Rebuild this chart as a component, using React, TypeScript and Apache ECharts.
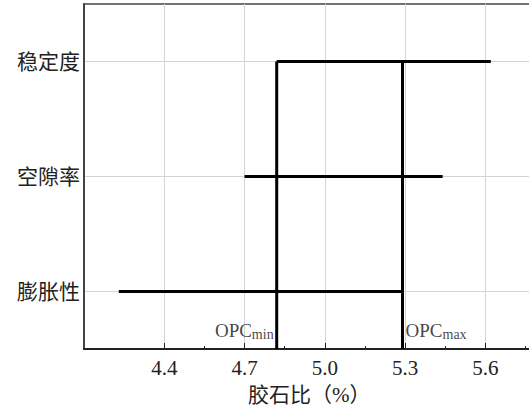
import React, { useEffect, useRef } from "react";
import * as echarts from "echarts";

// bottom to top
const categories = ["膨胀性", "空隙率", "稳定度"];
const lows = [4.23, 4.7, 4.82];
const highs = [5.29, 5.44, 5.62];
const opcValues = [4.82, 5.29];
const opcSubs = ["min", "max"];
const majorTicks = [4.4, 4.7, 5.0, 5.3, 5.6];
const minorTicks = [4.55, 4.85, 5.15, 5.45, 5.75];
const xTitle = "胶石比（%）";

const SERIF = "'Liberation Serif', 'Times New Roman', 'Noto Sans CJK SC', serif";

export default function App() {
  const ref = useRef<HTMLDivElement>(null);
  useEffect(() => {
    document.body.style.margin = "0";
    document.body.style.overflow = "hidden";
    if (!ref.current) return;
    const chart = echarts.init(ref.current, undefined, { renderer: "svg" });
    const yMin = -0.5;
    const yMax = categories.length - 0.5;
    const topIdx = categories.length - 1;
    const series: any[] = [];
    categories.forEach((c, i) => {
      series.push({
        type: "line",
        name: c,
        data: [
          [lows[i], i],
          [highs[i], i],
        ],
        symbol: "none",
        lineStyle: { color: "#000", width: 3 },
        z: 5,
      });
    });
    opcValues.forEach((v, k) => {
      series.push({
        type: "line",
        name: "OPC" + opcSubs[k],
        data: [
          [v, topIdx],
          [v, yMin],
        ],
        symbol: "none",
        lineStyle: { color: "#000", width: 3 },
        z: 6,
      });
      series.push({
        type: "scatter",
        name: "OPC" + opcSubs[k] + " label",
        data: [[v, yMin]],
        symbol: "circle",
        symbolSize: 0.1,
        itemStyle: { color: "transparent" },
        silent: true,
        z: 7,
        label: {
          show: true,
          position: k === 0 ? "left" : "right",
          distance: 3,
          offset: [0, -19],
          formatter: () => `{a|OPC}{b|${opcSubs[k]}}`,
          rich: {
            a: { fontFamily: SERIF, fontSize: 19, color: "#111", lineHeight: 22 },
            b: {
              fontFamily: SERIF,
              fontSize: 14,
              color: "#111",
              lineHeight: 22,
              verticalAlign: "bottom",
            },
          },
        },
      });
    });
    chart.setOption({
      animation: false,
      grid: {
        left: 84,
        top: 4,
        right: 6,
        bottom: 65,
        show: true,
        borderColor: "#444",
        borderWidth: 1.5,
        backgroundColor: "transparent",
      },
      xAxis: [
        {
          type: "value",
          min: 4.1,
          max: 5.8,
          position: "bottom",
          axisLine: { show: true, onZero: false, lineStyle: { color: "#222", width: 2 } },
          axisTick: {
            show: true,
            inside: true,
            length: 6,
            customValues: majorTicks,
            lineStyle: { color: "#222", width: 1 },
          },
          axisLabel: {
            customValues: majorTicks,
            formatter: (v: number) => v.toFixed(1),
            fontFamily: SERIF,
            fontSize: 21,
            color: "#222",
            margin: 8,
          },
          splitLine: { show: true, lineStyle: { color: "#d4d4d4", width: 1 } },
        },
        {
          type: "value",
          min: 4.1,
          max: 5.8,
          position: "bottom",
          axisLine: { show: false, onZero: false },
          axisTick: {
            show: true,
            inside: true,
            length: 3,
            customValues: minorTicks,
            lineStyle: { color: "#222", width: 1 },
          },
          axisLabel: { show: false },
          splitLine: { show: false },
        },
      ],
      yAxis: {
        type: "value",
        min: yMin,
        max: yMax,
        axisLine: { show: true, onZero: false, lineStyle: { color: "#444", width: 2 } },
        axisTick: { show: false, customValues: [0, 1, 2] },
        axisLabel: {
          customValues: [0, 1, 2],
          formatter: (v: number) => categories[Math.round(v)] ?? "",
          fontFamily: SERIF,
          fontSize: 21,
          color: "#222",
          margin: 4,
        },
        splitLine: { show: true, lineStyle: { color: "#d4d4d4", width: 1 } },
      },
      graphic: [
        {
          type: "text",
          left: 248,
          top: 384,
          style: {
            text: xTitle,
            fontFamily: SERIF,
            fontSize: 21,
            fill: "#222",
          },
        },
      ],
      series,
    });
    return () => chart.dispose();
  }, []);
  return <div ref={ref} style={{ width: 545, height: 414 }} />;
}
